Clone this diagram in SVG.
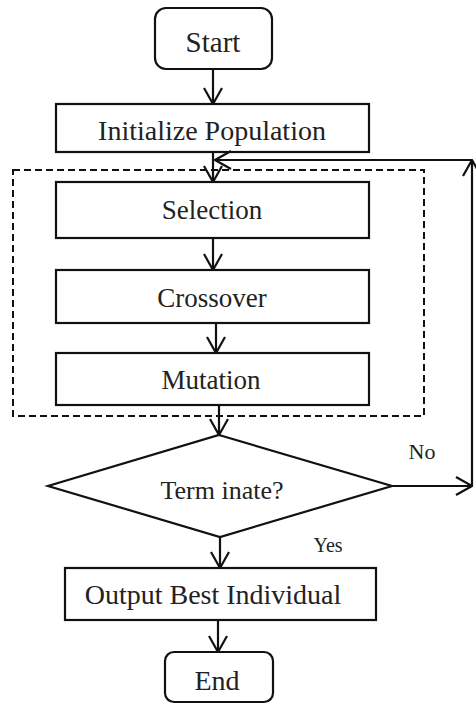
<svg xmlns="http://www.w3.org/2000/svg" width="476" height="704" viewBox="0 0 476 704">
<defs>
<marker id="arr" viewBox="0 0 18 20" refX="17" refY="10" markerWidth="18" markerHeight="20" markerUnits="userSpaceOnUse" orient="auto">
<path d="M1,1 L17,10 L1,19" fill="none" stroke="#111" stroke-width="2.2"/>
</marker>
<style>
.box{fill:#fff;stroke:#111;stroke-width:2.2}
.t{fill:#222;text-anchor:middle}
.c{fill:none;stroke:#111;stroke-width:2.2}
</style>
</defs>
<rect width="476" height="704" fill="#fff"/>
<g font-family="'Liberation Serif', 'Times New Roman', 'DejaVu Serif', serif">
<g id="loop">
<rect x="13" y="170" width="411" height="246" fill="none" stroke="#111" stroke-width="2" stroke-dasharray="7,4"/>
</g>
<g id="start"><rect class="box" x="155" y="8" width="117" height="61" rx="11"/><text class="t" x="213" y="52" font-size="29">Start</text></g>
<g id="init"><rect class="box" x="56" y="104" width="313" height="48"/><text class="t" x="212" y="140" font-size="28">Initialize Population</text></g>
<g id="selection"><rect class="box" x="56" y="182" width="313" height="56"/><text class="t" x="212" y="219" font-size="27">Selection</text></g>
<g id="crossover"><rect class="box" x="56" y="270" width="313" height="53"/><text class="t" x="212" y="307" font-size="27">Crossover</text></g>
<g id="mutation"><rect class="box" x="56" y="353" width="313" height="52"/><text class="t" x="211" y="389" font-size="27">Mutation</text></g>
<g id="terminate"><polygon class="box" points="219,435 392,486 220,537 48,486"/><text class="t" x="222" y="499" font-size="26">Term inate?</text></g>
<g id="output"><rect class="box" x="65" y="568" width="311" height="52"/><text class="t" x="213" y="604" font-size="28">Output Best Individual</text></g>
<g id="end"><rect class="box" x="165" y="652" width="108" height="50" rx="9"/><text class="t" x="217" y="690" font-size="28">End</text></g>
<g id="connectors">
<line class="c" x1="213" y1="69" x2="213" y2="104" marker-end="url(#arr)"/>
<line class="c" x1="213" y1="152" x2="213" y2="182" marker-end="url(#arr)"/>
<line class="c" x1="213" y1="238" x2="213" y2="270" marker-end="url(#arr)"/>
<line class="c" x1="216" y1="323" x2="216" y2="353" marker-end="url(#arr)"/>
<line class="c" x1="219" y1="405" x2="219" y2="435" marker-end="url(#arr)"/>
<line class="c" x1="220" y1="537" x2="220" y2="568" marker-end="url(#arr)"/>
<line class="c" x1="218" y1="620" x2="218" y2="652" marker-end="url(#arr)"/>
<line class="c" x1="392" y1="486" x2="472" y2="486" marker-end="url(#arr)"/>
<line class="c" x1="472" y1="486" x2="472" y2="160" marker-end="url(#arr)"/>
<line class="c" x1="472" y1="160" x2="215" y2="160" marker-end="url(#arr)"/>
<text class="t" x="422" y="459" font-size="22">No</text>
<text class="t" x="328" y="552" font-size="20">Yes</text>
</g>
</g>
</svg>
